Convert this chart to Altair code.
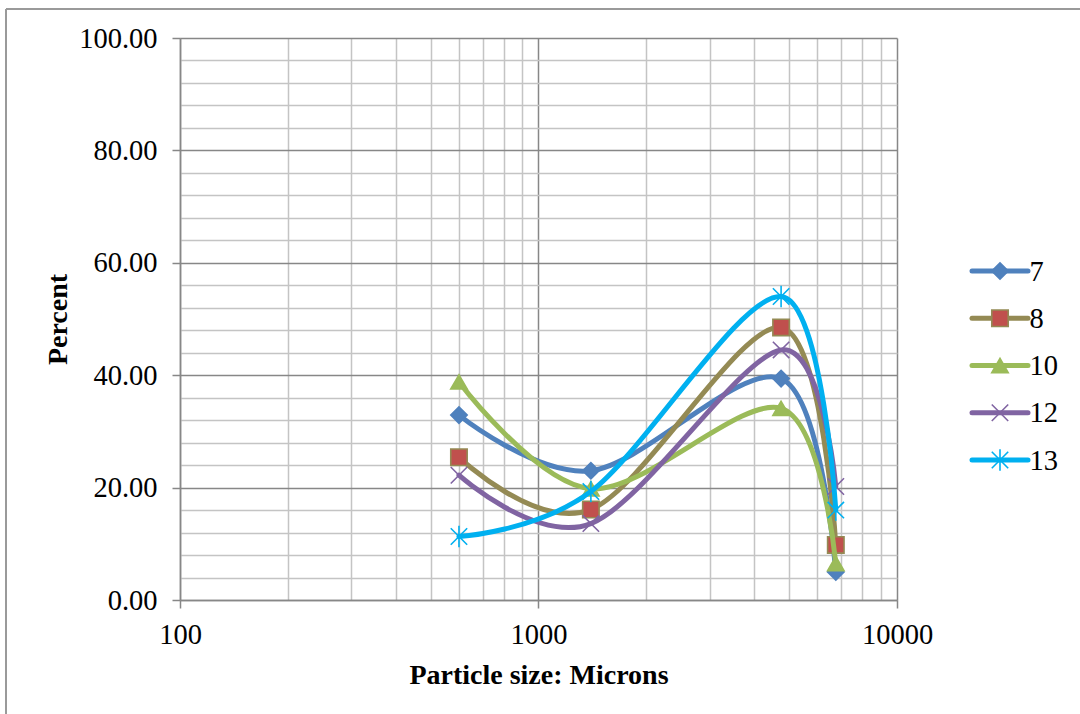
import altair as alt
import pandas as pd

# ---- data ----
sizes = [600, 1400, 4750, 6750]          # particle size, microns
series_names = ["7", "8", "10", "12", "13"]
s7 = [32.9, 23.0, 39.4, 5.0]
s8 = [25.4, 16.1, 48.5, 9.8]
s10 = [38.8, 19.8, 34.1, 6.5]
s12 = [22.2, 13.6, 44.5, 20.2]
s13 = [11.3, 19.3, 54.0, 16.0]
all_values = [s7, s8, s10, s12, s13]

x_ticks = [100, 200, 300, 400, 500, 600, 700, 800, 900,
           1000, 2000, 3000, 4000, 5000, 6000, 7000, 8000, 9000, 10000]
y_ticks = [0, 4, 8, 12, 16, 20, 24, 28, 32, 36, 40, 44, 48, 52, 56, 60,
           64, 68, 72, 76, 80, 84, 88, 92, 96, 100]

line_colors = ["#4F81BD", "#948A54", "#9BBB59", "#8064A2", "#00B0F0"]
fill_colors = ["#4F81BD", "#C0504D", "#9BBB59", "#8064A2", "#00B0F0"]
stroke_colors = ["#4F81BD", "#948A54", "#9BBB59", "#8064A2", "#00B0F0"]
shapes = ["diamond", "square", "triangle-up",
          "M-1,-1L1,1M-1,1L1,-1",
          "M-1,-1L1,1M-1,1L1,-1M0,-1.3L0,1.3"]

rows = []
for name, vals in zip(series_names, all_values):
    for sz, v in zip(sizes, vals):
        rows.append({"series": name, "size": sz, "value": v})
df = pd.DataFrame(rows)
legend_df = pd.DataFrame({"series": series_names})

FONT = "Liberation Serif"
TICK_FS = 28.5
TITLE_FS = 28
MAJOR = "#878787"
MINOR = "#c4c4c4"
x_major_test = "datum.value==100||datum.value==1000||datum.value==10000"
y_major_test = "datum.value % 20 == 0"

x_enc = alt.X(
    "size:Q",
    scale=alt.Scale(type="log", domain=[100, 10000], nice=False),
    axis=alt.Axis(
        values=x_ticks, format="d",
        labelExpr="(" + x_major_test + ") ? datum.label : ''",
        labelOverlap=False, labelFlush=False,
        labelFont=FONT, labelFontSize=TICK_FS, labelColor="#000000", labelPadding=12,
        grid=True, gridWidth=1.5,
        gridColor={"condition": {"test": x_major_test, "value": MAJOR}, "value": MINOR},
        tickColor={"condition": {"test": x_major_test, "value": MAJOR}, "value": "transparent"},
        tickSize=8, tickWidth=1.5,
        domainColor=MAJOR, domainWidth=1.5,
        title="Particle size: Microns", titleFont=FONT, titleFontSize=TITLE_FS,
        titleFontWeight="bold", titleColor="#000000",
        titleX=358.5, titleY=83, titleBaseline="alphabetic", titleAlign="center",
    ),
)
y_enc = alt.Y(
    "value:Q",
    scale=alt.Scale(domain=[0, 100], nice=False),
    axis=alt.Axis(
        values=y_ticks,
        labelExpr="(" + y_major_test + ") ? format(datum.value, '.2f') : ''",
        labelOverlap=False,
        labelFont=FONT, labelFontSize=TICK_FS, labelColor="#000000", labelPadding=15,
        grid=True, gridWidth=1.5,
        gridColor={"condition": {"test": y_major_test, "value": MAJOR}, "value": MINOR},
        tickColor={"condition": {"test": y_major_test, "value": MAJOR}, "value": "transparent"},
        tickSize=8, tickWidth=1.5,
        domainColor=MAJOR, domainWidth=1.5,
        title="Percent", titleFont=FONT, titleFontSize=TITLE_FS,
        titleFontWeight="bold", titleColor="#000000",
        titleAngle=270, titleX=-114, titleY=281,
        titleBaseline="alphabetic", titleAlign="center",
    ),
)

color_enc = alt.Color("series:N", scale=alt.Scale(domain=series_names, range=line_colors), legend=None)
fill_enc = alt.Fill("series:N", scale=alt.Scale(domain=series_names, range=fill_colors), legend=None)
stroke_enc = alt.Stroke("series:N", scale=alt.Scale(domain=series_names, range=stroke_colors), legend=None)
shape_enc = alt.Shape("series:N", scale=alt.Scale(domain=series_names, range=shapes), legend=None)

base = alt.Chart(df)
main_layers = []
for name in series_names:
    sub = base.transform_filter(alt.datum.series == name)
    main_layers.append(
        sub.mark_line(interpolate="cardinal", strokeWidth=5, strokeCap="round").encode(
            x=x_enc, y=y_enc, color=color_enc
        )
    )
    main_layers.append(
        sub.mark_point(size=270, strokeWidth=1.6, opacity=1, filled=False).encode(
            x=x_enc, y=y_enc, shape=shape_enc, fill=fill_enc, stroke=stroke_enc
        )
    )

# outer chart-area frame (decoration)
frame_left = alt.Chart(legend_df).mark_rule(color="#9a9a9a", strokeWidth=1.5).encode(
    x=alt.value(-174), y=alt.value(-29), y2=alt.value(676)
)
frame_top = alt.Chart(legend_df).mark_rule(color="#9a9a9a", strokeWidth=1.5).encode(
    x=alt.value(-174), x2=alt.value(900), y=alt.value(-29)
)

main = alt.layer(*main_layers)

# custom legend (line + marker; labels drawn by a right-hand axis of the legend's own scale)
lx = alt.Scale(domain=[0, 1], range=[792, 848])
ly_axis = alt.Axis(
    orient="right", offset=132, domain=False, ticks=False, grid=False,
    labelPadding=0, labelFont=FONT, labelFontSize=TICK_FS, labelColor="#000000",
    labelAlign="left", labelBaseline="middle", title=None, labelOverlap=False,
)
ly = alt.Y("series:N", sort=series_names,
           scale=alt.Scale(type="point", domain=series_names, range=[233, 422], padding=0),
           axis=ly_axis)
ly_noaxis = alt.Y("series:N", sort=series_names,
                  scale=alt.Scale(type="point", domain=series_names, range=[233, 422], padding=0),
                  axis=ly_axis)
lbase = alt.Chart(legend_df)
leg_line = lbase.mark_rule(strokeWidth=5, strokeCap="round").encode(
    x=alt.X(datum=0, type="quantitative", scale=lx, axis=None),
    x2=alt.X2(datum=1),
    y=ly, color=color_enc,
)
leg_pt = lbase.mark_point(size=270, strokeWidth=1.6, opacity=1, filled=False).encode(
    x=alt.X(datum=0.5, type="quantitative", scale=lx, axis=None),
    y=ly_noaxis, shape=shape_enc, fill=fill_enc, stroke=stroke_enc,
)
legend = alt.layer(leg_line, leg_pt)

chart = (
    alt.layer(frame_left, frame_top, main, legend)
    .resolve_scale(x="independent", y="independent")
    .properties(
        width=717, height=562,
        autosize=alt.AutoSizeParams(type="none"),
        padding={"left": 180, "top": 38, "right": 183, "bottom": 114},
        background="#ffffff",
    )
    .configure_view(stroke=None)
)

chart.save("out.html", embed_options={"renderer": "svg", "actions": False})
